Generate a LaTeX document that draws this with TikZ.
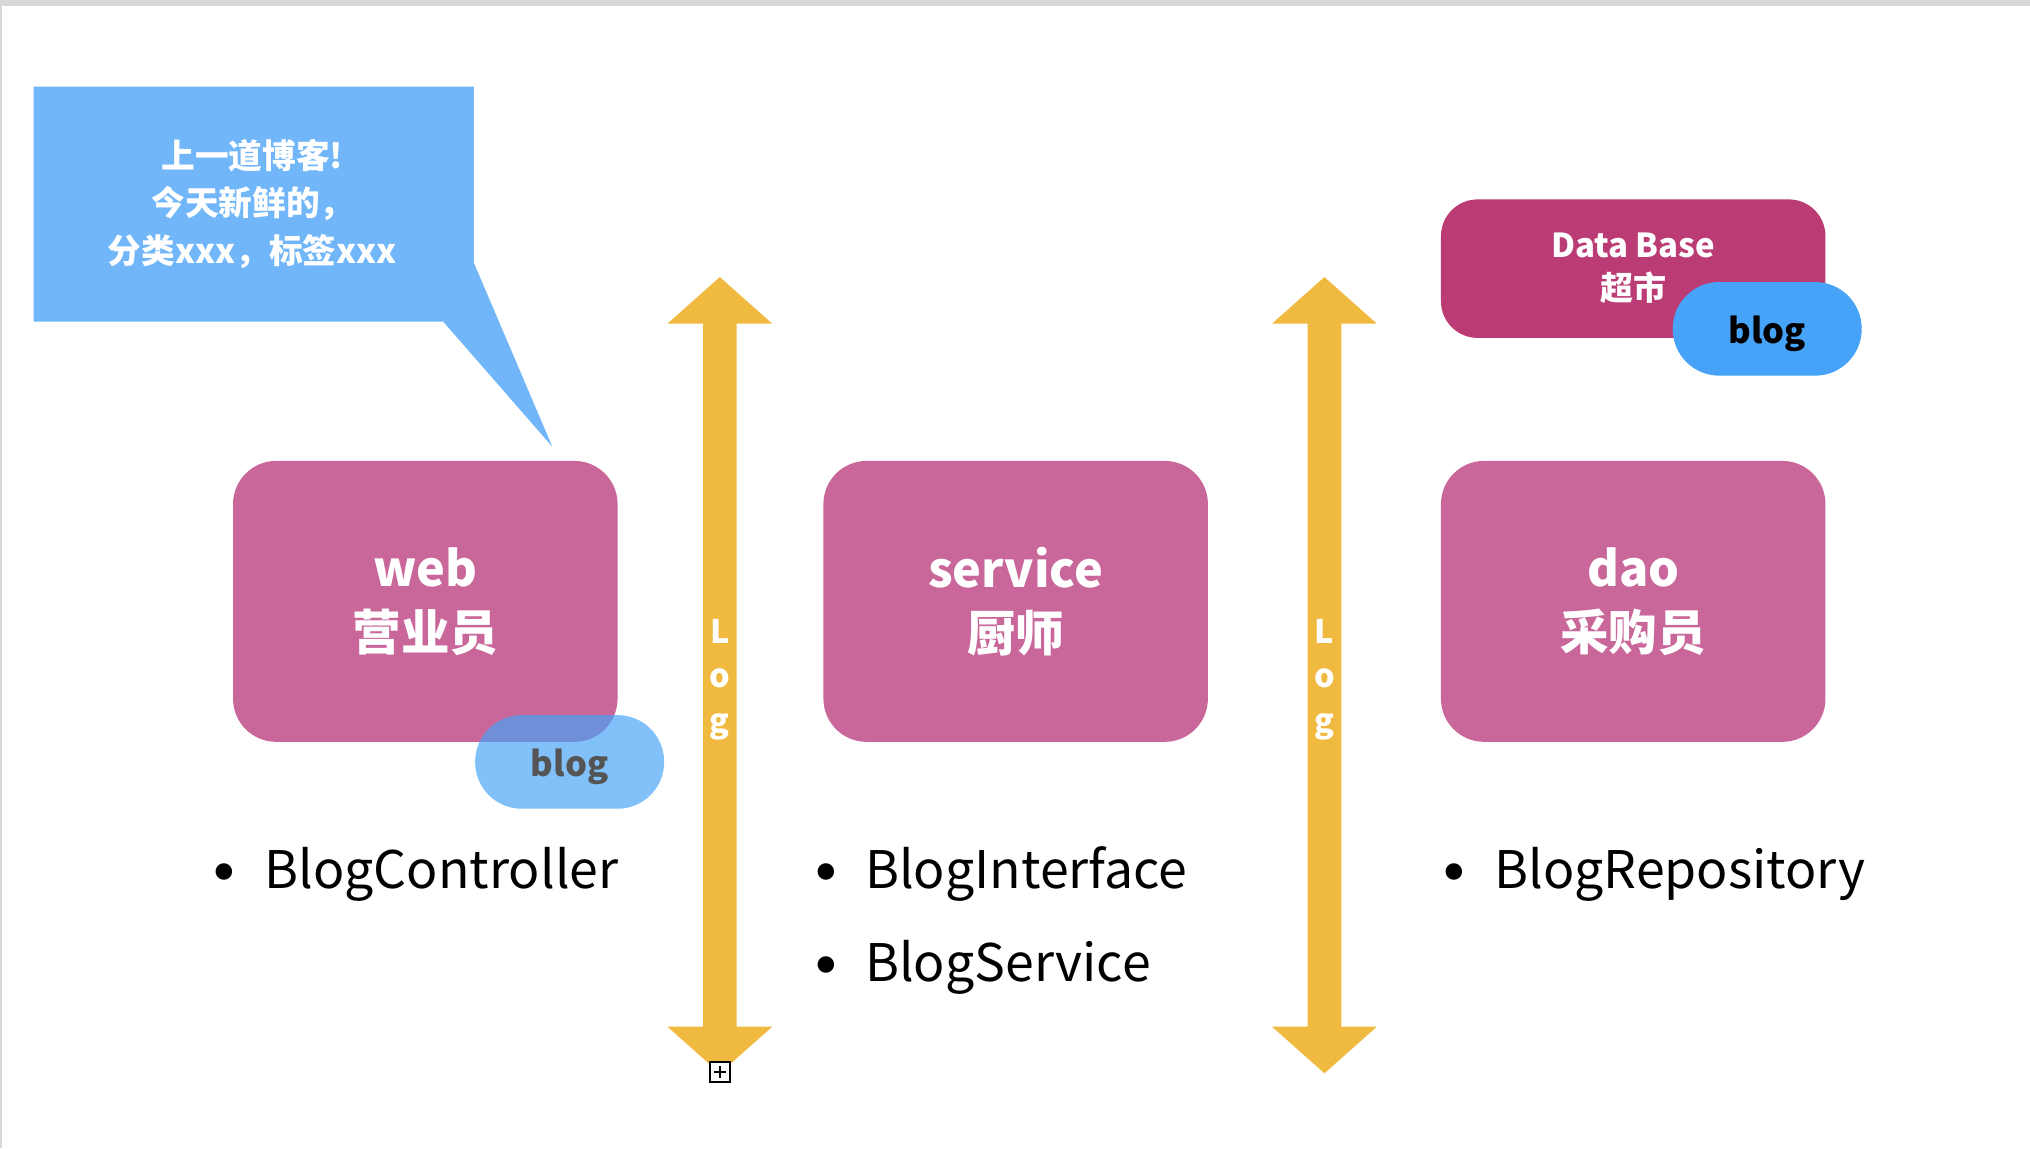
\documentclass[tikz,border=0pt]{standalone}
\usepackage{fontspec}
\setmainfont{Noto Sans CJK SC}
\definecolor{edgegray}{HTML}{D8D8D8}
\definecolor{bubbleblue}{HTML}{71B6F8}
\definecolor{layerpink}{HTML}{C9679A}
\definecolor{dbmagenta}{HTML}{BB3B75}
\definecolor{blogblue}{HTML}{46A3F7}
\definecolor{logyellow}{HTML}{F0BA40}
\tikzset{
  layer/.style={fill=layerpink, text=white, align=center, inner sep=0pt,
    rounded corners=20pt, minimum width=178.2pt, minimum height=130.2pt,
    font=\bfseries\fontsize{22.5}{29.5}\selectfont},
  dbbox/.style={fill=dbmagenta, text=white, align=center, inner sep=0pt,
    rounded corners=17pt, minimum width=178.2pt, minimum height=64.2pt,
    font=\bfseries\fontsize{15.3}{20}\selectfont},
  pill/.style={fill=blogblue, inner sep=0pt, rounded corners=21.6pt,
    minimum width=87.6pt, minimum height=43.4pt},
  pilltext/.style={inner sep=0pt, yshift=-2.2pt, font=\bfseries\fontsize{16}{20}\selectfont},
  bubbletext/.style={text=white, align=center, inner sep=0pt,
    font=\bfseries\fontsize{15.6}{22.2}\selectfont},
  logtext/.style={text=white, align=center, inner sep=0pt,
    font=\bfseries\fontsize{15}{20.7}\selectfont},
  item/.style={anchor=base west, inner sep=0pt, font=\fontsize{24}{30}\selectfont},
  bulletdot/.style={inner sep=0pt, font=\fontsize{36}{36}\selectfont},
}
\begin{document}
\begin{tikzpicture}[x=0.6pt,y=-0.6pt]
\useasboundingbox (0,0) rectangle (1568,887);
\fill[white] (0,0) rectangle (1568,887);
\fill[edgegray] (0,0) rectangle (1568,4.5);
\fill[edgegray] (0,0) rectangle (1.5,887);

% speech bubble
\fill[bubbleblue] (26,67) -- (366,67) -- (366,203) -- (426.6,345) -- (342.4,248.5) -- (26,248.5) -- cycle;
\node[bubbletext] (bubble) at (195,157.5) {上一道博客!\\今天新鲜的，\\分类xxx，标签xxx};

% layers
\node[layer] (web) at (328.5,464.5) {\raisebox{0pt}{web}\\营业员};
\node[layer] (service) at (784.5,464.5) {service\\厨师};
\node[layer] (dao) at (1261.5,464.5) {dao\\采购员};

\node[pill, fill opacity=0.68,
  label={[pilltext, text=black!67]center:blog}] (webblog) at (440,588.5) {};

% data base
\node[dbbox] (db) at (1261.5,207.5) {Data Base\\超市};
\node[pill, label={[pilltext, text=black]center:blog}] (dbblog) at (1365,254) {};

% Log arrows
\fill[logyellow] (556,214) -- (596.5,250) -- (569,250) -- (569,793) -- (596.5,793) -- (556,829)
  -- (515.5,793) -- (543,793) -- (543,250) -- (515.5,250) -- cycle;
\node[logtext] (log1) at (556,525) {L\\o\\g};
\fill[logyellow] (1023,214) -- (1063.5,250) -- (1036,250) -- (1036,793) -- (1063.5,793) -- (1023,829)
  -- (982.5,793) -- (1010,793) -- (1010,250) -- (982.5,250) -- cycle;
\node[logtext] (log2) at (1023,525) {L\\o\\g};

% expand icon
\node[draw=black, fill=white, line width=0.9pt, minimum size=9.2pt, inner sep=0pt,
  path picture={
    \draw[line width=0.9pt] ([xshift=-2.8pt]path picture bounding box.center) -- ([xshift=2.8pt]path picture bounding box.center);
    \draw[line width=0.9pt] ([yshift=-2.8pt]path picture bounding box.center) -- ([yshift=2.8pt]path picture bounding box.center);
  }] (expand) at (556,828) {};

% lists
\node[bulletdot] (b1) at (173.4,681.5) {•};
\node[item] (l1) at (204,686) {BlogController};
\node[bulletdot] (b2) at (638,681.5) {•};
\node[item] (l2) at (668,686) {BlogInterface};
\node[bulletdot] (b3) at (638,753.5) {•};
\node[item] (l3) at (668,758) {BlogService};
\node[bulletdot] (b4) at (1123,681.5) {•};
\node[item] (l4) at (1154,686) {BlogRepository};
\end{tikzpicture}
\end{document}
